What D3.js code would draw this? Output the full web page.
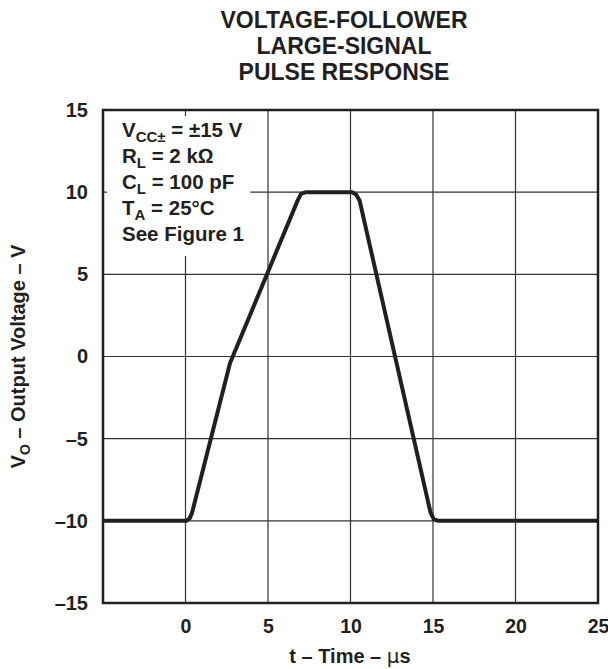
<!DOCTYPE html>
<html>
<head>
<meta charset="utf-8">
<script src="https://cdn.jsdelivr.net/npm/d3@7"></script>
<style>
  body { margin: 0; background: #fff; }
  svg text { font-family: "Liberation Sans", Arial, Helvetica, sans-serif; font-weight: bold; fill: #231f20; }
</style>
</head>
<body>
<div id="chart"></div>
<script>
// pulse response (time in us, output in V)
const timeUs   = [-5, 0.05, 0.25, 0.4, 2.7, 6.8, 7.0, 7.3, 10.1, 10.35, 10.55, 14.85, 15.05, 15.3, 25];
const voltageV = [-10, -10, -9.85, -9.5, -0.4, 9.5, 9.9, 10, 10, 9.85, 9.5, -9.5, -9.9, -10, -10];

const xTicks = [0, 5, 10, 15, 20, 25];
const yTicks = [-15, -10, -5, 0, 5, 10, 15];
const xGrid = [0, 5, 10, 15, 20];
const yGrid = [-10, -5, 0, 5, 10];

const titleLines = ["VOLTAGE-FOLLOWER", "LARGE-SIGNAL", "PULSE RESPONSE"];
// each legend line: [main, subscript, rest]
const legendLines = [
  ["V", "CC\u00b1", " = \u00b115 V"],
  ["R", "L", " = 2 k\u2126"],
  ["C", "L", " = 100 pF"],
  ["T", "A", " = 25\u00b0C"],
  ["See Figure 1", "", ""]
];

const w = 608;
const h = 669;
const padL = 103, padR = 598, padT = 110, padB = 603;

const svg = d3.select("#chart")
  .append("svg")
  .attr("width", w)
  .attr("height", h);

const xScale = d3.scaleLinear().domain([-5, 25]).range([padL, padR]);
const yScale = d3.scaleLinear().domain([-15, 15]).range([padB, padT]);

const fmt = (d) => d < 0 ? "\u2013" + Math.abs(d) : d;

// grid
svg.append("g").selectAll("line")
  .data(xGrid)
  .enter()
  .append("line")
  .attr("x1", d => xScale(d)).attr("x2", d => xScale(d))
  .attr("y1", padT).attr("y2", padB)
  .attr("stroke", "#333").attr("stroke-width", 1.2);

svg.append("g").selectAll("line")
  .data(yGrid)
  .enter()
  .append("line")
  .attr("x1", padL).attr("x2", padR)
  .attr("y1", d => yScale(d)).attr("y2", d => yScale(d))
  .attr("stroke", "#333").attr("stroke-width", 1.2);

// conditions box, white behind each text line
const legend = svg.append("g");
const legendX = 122, legendY0 = 137, legendStep = 26;
legendLines.forEach((l, i) => {
  const t = legend.append("text")
    .attr("x", legendX)
    .attr("y", legendY0 + i * legendStep)
    .attr("font-size", 20.5);
  t.append("tspan").text(l[0]);
  if (l[1]) {
    t.append("tspan").attr("font-size", 15).attr("dy", 5).text(l[1]);
    t.append("tspan").attr("dy", -5).text(l[2]);
  }
  const bb = t.node().getBBox();
  const pad = i === 0 ? 24 : 16;
  legend.insert("rect", "text")
    .attr("x", 107)
    .attr("y", legendY0 + i * legendStep - 21)
    .attr("width", bb.x + bb.width + pad - 107)
    .attr("height", i === legendLines.length - 1 ? 36 : legendStep)
    .attr("fill", "#fff");
});

// curve
const line = d3.line()
  .x((d, i) => xScale(timeUs[i]))
  .y(d => yScale(d));

svg.append("path")
  .datum(voltageV)
  .attr("d", line)
  .attr("fill", "none")
  .attr("stroke", "#231f20")
  .attr("stroke-width", 4)
  .attr("stroke-linejoin", "round");

// frame
svg.append("rect")
  .attr("x", padL).attr("y", padT)
  .attr("width", padR - padL).attr("height", padB - padT)
  .attr("fill", "none")
  .attr("stroke", "#231f20")
  .attr("stroke-width", 2.5);

// axes (labels only, the frame and grid do the lines)
const xAxis = d3.axisBottom(xScale).tickValues(xTicks).tickFormat(fmt).tickSize(0).tickPadding(0);
const gx = svg.append("g")
  .attr("transform", "translate(0," + padB + ")")
  .call(xAxis);
gx.select(".domain").remove();
gx.selectAll("text").attr("font-size", 19.5).attr("dy", null).attr("y", 30).style("fill", "#231f20");

const yAxis = d3.axisLeft(yScale).tickValues(yTicks).tickFormat(fmt).tickSize(0).tickPadding(0);
const gy = svg.append("g")
  .attr("transform", "translate(88,0)")
  .call(yAxis);
gy.select(".domain").remove();
gy.selectAll("text").attr("font-size", 20).style("fill", "#231f20");

// axis titles
const xt = svg.append("text")
  .attr("x", 350).attr("y", 663)
  .attr("text-anchor", "middle")
  .attr("font-size", 20);
xt.append("tspan").text("t \u2013 Time \u2013 ");
xt.append("tspan").style("font-family", "'DejaVu Sans', sans-serif").style("font-weight", "normal").text("\u03bc");
xt.append("tspan").text("s");

const yt = svg.append("text")
  .attr("transform", "translate(25," + yScale(0) + ") rotate(-90)")
  .attr("text-anchor", "middle")
  .attr("font-size", 20);
yt.append("tspan").text("V");
yt.append("tspan").attr("font-size", 14).attr("dy", 5).text("O");
yt.append("tspan").attr("dy", -5).text(" \u2013 Output Voltage \u2013 V");

// title
svg.append("g").selectAll("text")
  .data(titleLines)
  .enter()
  .append("text")
  .attr("x", 344)
  .attr("y", (d, i) => 28 + i * 26)
  .attr("text-anchor", "middle")
  .attr("font-size", 23)
  .text(d => d);
</script>
</body>
</html>
